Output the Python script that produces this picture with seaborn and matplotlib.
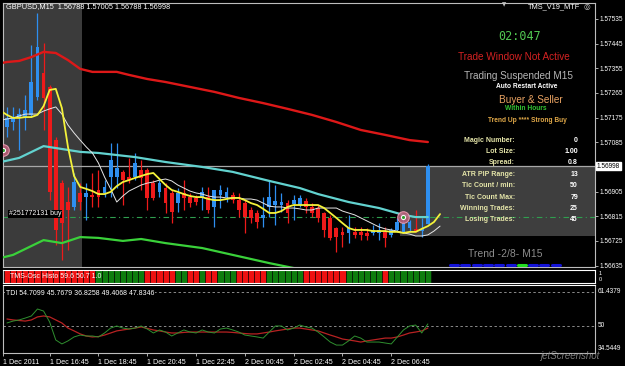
import numpy as np
import pandas as pd
import matplotlib
matplotlib.use('Agg')
import matplotlib.pyplot as plt
from matplotlib.patches import Rectangle
from matplotlib.lines import Line2D
import seaborn as sns

# GBPUSD M15 candles, 1 Dec 2011 15:00 onwards
opens = [1.57141, 1.57159, 1.57174, 1.57177, 1.57185, 1.57250, 1.57338, 1.57287, 1.57093, 1.56936,
         1.56867, 1.56849, 1.56900, 1.56885, 1.56893, 1.56911, 1.56900, 1.56958, 1.56958, 1.56977,
         1.56958, 1.56958, 1.56984, 1.56984, 1.56936, 1.56904, 1.56918, 1.56900, 1.56863, 1.56900,
         1.56885, 1.56882, 1.56882, 1.56885, 1.56849, 1.56893, 1.56885, 1.56893, 1.56874, 1.56863,
         1.56838, 1.56827, 1.56809, 1.56849, 1.56856, 1.56856, 1.56863, 1.56860, 1.56856, 1.56871,
         1.56849, 1.56845, 1.56827, 1.56809, 1.56772, 1.56758, 1.56754, 1.56758, 1.56758, 1.56754,
         1.56754, 1.56754, 1.56758, 1.56747, 1.56765, 1.56758, 1.56772, 1.56769, 1.56761, 1.56788]
highs = [1.57214, 1.57214, 1.57210, 1.57258, 1.57440, 1.57557, 1.57447, 1.57294, 1.57104, 1.56947,
         1.56922, 1.56973, 1.56936, 1.56936, 1.56973, 1.56984, 1.56947, 1.57082, 1.57082, 1.56984,
         1.57028, 1.57046, 1.57020, 1.56991, 1.56947, 1.56947, 1.56936, 1.56911, 1.56918, 1.56947,
         1.56900, 1.56893, 1.56922, 1.56922, 1.56911, 1.56929, 1.56922, 1.56904, 1.56900, 1.56874,
         1.56849, 1.56838, 1.56885, 1.56947, 1.56929, 1.56900, 1.56874, 1.56893, 1.56893, 1.56882,
         1.56863, 1.56856, 1.56831, 1.56820, 1.56776, 1.56776, 1.56820, 1.56776, 1.56776, 1.56772,
         1.56783, 1.56790, 1.56776, 1.56772, 1.56809, 1.56820, 1.56801, 1.56838, 1.56809, 1.57005]
lows = [1.57104, 1.57130, 1.57057, 1.57130, 1.57177, 1.57239, 1.57130, 1.56874, 1.56710, 1.56655,
        1.56692, 1.56838, 1.56838, 1.56801, 1.56849, 1.56849, 1.56885, 1.56885, 1.56918, 1.56856,
        1.56936, 1.56947, 1.56911, 1.56838, 1.56874, 1.56885, 1.56827, 1.56790, 1.56831, 1.56838,
        1.56849, 1.56856, 1.56838, 1.56827, 1.56776, 1.56845, 1.56867, 1.56863, 1.56812, 1.56754,
        1.56790, 1.56772, 1.56776, 1.56812, 1.56783, 1.56831, 1.56790, 1.56801, 1.56849, 1.56827,
        1.56812, 1.56794, 1.56739, 1.56728, 1.56684, 1.56703, 1.56718, 1.56736, 1.56728, 1.56728,
        1.56747, 1.56728, 1.56703, 1.56739, 1.56758, 1.56754, 1.56758, 1.56758, 1.56739, 1.56788]
closes = [1.57174, 1.57177, 1.57188, 1.57203, 1.57305, 1.57433, 1.57247, 1.56904, 1.56765, 1.56790,
          1.56838, 1.56940, 1.56867, 1.56900, 1.56885, 1.56885, 1.56922, 1.57020, 1.56991, 1.56947,
          1.56947, 1.57009, 1.56955, 1.56882, 1.56882, 1.56936, 1.56863, 1.56831, 1.56900, 1.56882,
          1.56863, 1.56867, 1.56904, 1.56838, 1.56911, 1.56911, 1.56904, 1.56874, 1.56838, 1.56812,
          1.56809, 1.56794, 1.56820, 1.56885, 1.56871, 1.56867, 1.56827, 1.56874, 1.56882, 1.56849,
          1.56827, 1.56809, 1.56765, 1.56736, 1.56739, 1.56747, 1.56772, 1.56747, 1.56747, 1.56743,
          1.56765, 1.56765, 1.56736, 1.56765, 1.56794, 1.56790, 1.56794, 1.56761, 1.56769, 1.56998]

# envelope lines (red upper, cyan middle, green lower)
red_x = [-1, 0, 2, 4, 6, 8, 10, 12, 14, 16, 18, 20, 23, 26, 30, 34, 38, 42, 46, 50, 54, 58, 62, 66, 69]
red_y = [1.57374, 1.57378, 1.57382, 1.57396, 1.57415, 1.57411, 1.57385, 1.57353, 1.57342, 1.57342,
         1.57342, 1.57331, 1.57316, 1.57305, 1.57287, 1.57269, 1.57247, 1.57228, 1.57207, 1.57185,
         1.57159, 1.57130, 1.57112, 1.57093, 1.57086]
cyan_x = [-1, 2, 6, 10, 12, 15, 21, 26, 32, 37, 43, 48, 51, 56, 61, 65, 67, 69]
cyan_y = [1.57013, 1.57028, 1.57071, 1.57057, 1.57050, 1.57046, 1.57031, 1.57013, 1.56995, 1.56977,
          1.56944, 1.56918, 1.56896, 1.56867, 1.56845, 1.56820, 1.56812, 1.56812]
green_x = [-1, 1, 6, 9, 12, 15, 19, 22, 26, 32, 37, 43, 47, 52, 58, 64, 69]
green_y = [1.56663, 1.56674, 1.56728, 1.56717, 1.56739, 1.56736, 1.56725, 1.56732, 1.56717, 1.56699,
           1.56674, 1.56644, 1.56626, 1.56601, 1.56575, 1.56553, 1.56539]

# fast (yellow) and slow (white) averages, bars -1..71
ma_x = list(range(-1, 72))
yellow_y = [1.57199, 1.57185, 1.57174, 1.57174, 1.57177, 1.57177, 1.57185, 1.57217, 1.57276, 1.57280,
            1.57210, 1.57068, 1.56962, 1.56922, 1.56915, 1.56907, 1.56896, 1.56896, 1.56904, 1.56925,
            1.56940, 1.56947, 1.56955, 1.56962, 1.56969, 1.56973, 1.56951, 1.56929, 1.56911, 1.56904,
            1.56896, 1.56889, 1.56885, 1.56885, 1.56878, 1.56874, 1.56874, 1.56878, 1.56882, 1.56882,
            1.56874, 1.56863, 1.56856, 1.56842, 1.56827, 1.56827, 1.56834, 1.56849, 1.56856, 1.56856,
            1.56856, 1.56856, 1.56856, 1.56845, 1.56827, 1.56809, 1.56790, 1.56772, 1.56765, 1.56765,
            1.56765, 1.56761, 1.56761, 1.56761, 1.56758, 1.56758, 1.56754, 1.56758, 1.56758, 1.56769,
            1.56779, 1.56794, 1.56823]
white_y = [1.57166, 1.57170, 1.57174, 1.57181, 1.57188, 1.57188, 1.57188, 1.57199, 1.57207, 1.57214,
           1.57188, 1.57148, 1.57119, 1.57093, 1.57068, 1.57046, 1.57009, 1.56958, 1.56915, 1.56867,
           1.56889, 1.56907, 1.56918, 1.56929, 1.56936, 1.56940, 1.56947, 1.56951, 1.56944, 1.56929,
           1.56918, 1.56907, 1.56900, 1.56896, 1.56889, 1.56885, 1.56885, 1.56882, 1.56882, 1.56882,
           1.56878, 1.56878, 1.56874, 1.56863, 1.56852, 1.56849, 1.56849, 1.56845, 1.56845, 1.56842,
           1.56838, 1.56838, 1.56845, 1.56845, 1.56845, 1.56845, 1.56834, 1.56827, 1.56820, 1.56809,
           1.56798, 1.56787, 1.56776, 1.56769, 1.56765, 1.56761, 1.56754, 1.56750, 1.56743, 1.56743,
           1.56747, 1.56761, 1.56779]

# TMS-Osc histo state per bar (R = sell, G = buy)
osc_state = "RRRRRRRRRRRRRRRGGGGGGGGRRRRRGGRRGRRGGGRRRRRGGGGGGRRRRRRRGGGGGGRGGGGGGG"

# TDI lines
tdi_green = [51.6, 52.6, 53.2, 54.2, 55.3, 59.0, 57.9, 52.1, 42.6, 40.5,
             42.1, 44.2, 45.2, 44.7, 44.7, 44.2, 46.3, 48.9, 50.0, 48.9,
             48.4, 48.9, 50.0, 48.4, 46.3, 47.9, 46.8, 44.7, 46.3, 47.9,
             46.8, 46.3, 47.9, 46.8, 46.3, 48.4, 48.9, 47.9, 46.8, 45.2,
             44.7, 44.2, 43.6, 46.8, 50.0, 50.0, 47.9, 48.9, 50.5, 49.5,
             48.9, 46.8, 44.2, 41.5, 39.9, 39.9, 42.1, 44.7, 43.6, 41.5,
             41.5, 41.5, 41.0, 40.5, 44.2, 47.9, 50.0, 50.5, 46.3, 51.1]
tdi_red = [53.7, 53.2, 52.9, 52.6, 53.2, 54.8, 55.3, 54.8, 53.2, 51.6,
           48.9, 47.4, 45.8, 44.7, 44.2, 44.4, 45.2, 46.3, 47.4, 47.9,
           48.4, 48.9, 49.5, 48.7, 47.9, 47.4, 46.8, 46.3, 46.3, 46.6,
           46.8, 46.8, 46.8, 46.8, 46.8, 46.8, 46.8, 46.6, 46.3, 46.0,
           45.8, 45.8, 46.3, 46.8, 47.4, 47.9, 48.4, 48.9, 48.9, 48.4,
           47.9, 47.4, 46.3, 45.2, 44.2, 43.1, 42.6, 42.1, 41.5, 42.1,
           42.6, 43.1, 43.6, 43.6, 44.2, 45.2, 46.3, 46.8, 47.4, 48.9]

price_ticks = [1.57535, 1.57445, 1.57355, 1.57265, 1.57175, 1.57085, 1.56905, 1.56815, 1.56725, 1.56635]
bid = 1.56998
order_price = 1.56812
trade_x = [-0.65, 65]
trade_y = [1.57057, 1.56812]

date_ticks = [-0.65, 7, 15, 23, 31, 39, 47, 55, 63]
date_labels = ["1 Dec 2011", "1 Dec 16:45", "1 Dec 18:45", "1 Dec 20:45", "1 Dec 22:45",
               "2 Dec 00:45", "2 Dec 02:45", "2 Dec 04:45", "2 Dec 06:45"]

info_labels = ["Magic Number:", "Lot Size:", "Spread:", "ATR PIP Range:", "Tic Count / min:",
               "Tic Count Max:", "Winning Trades:", "Losing Trades:"]
info_values = ["0", "1.00", "0.8", "13", "50", "79", "25", "45"]
trend_colors = ["#1414d8"] * 6 + ["#22dd22"] + ["#1414d8"] * 3

sns.set_theme(style="dark", rc={"axes.facecolor": "black", "figure.facecolor": "black"})
plt.rcParams['font.family'] = ['Liberation Sans', 'DejaVu Sans']

W, H = 625, 366
fig = plt.figure(figsize=(6.25, 3.66), dpi=100)


def fax(x0, y0, x1, y1):
    return fig.add_axes([x0 / W, 1 - y1 / H, (x1 - x0) / W, (y1 - y0) / H])


def ft(x, y, s, **kw):
    kw.setdefault('va', 'center')
    return fig.text(x / W, 1 - y / H, s, **kw)


XL = (-0.65, 96.4)
LBL = 4.7
ax = fax(3, 3, 595, 267)
axo = fax(3, 270, 595, 283)
axt = fax(3, 285, 595, 353)
for a in (ax, axo, axt):
    a.set_facecolor('black')
    a.set_xlim(*XL)
    a.grid(False)
    for s in a.spines.values():
        s.set_color('#bdbdbd')
        s.set_linewidth(0.8)

# --- main chart ---
ax.set_ylim(1.566298, 1.575934)
ax.axvspan(XL[0], 12.3, color='#3b3b3b', zorder=0, lw=0)
ax.add_patch(Rectangle((64.4, 1.56743), XL[1] - 64.4, bid - 1.56743,
                       color='#3e3e3e', zorder=0, lw=0))

idx = np.arange(len(opens))
o = np.array(opens); c = np.array(closes)
up = c >= o
ccol = np.where(up, '#2e8ff0', '#ee1a1a')
ax.vlines(idx, lows, highs, colors=ccol, lw=0.9, zorder=3)
body = np.maximum(np.abs(c - o), 0.00003)
ax.bar(idx, body, bottom=np.minimum(o, c), width=0.62, color=ccol, lw=0, zorder=4)

sns.lineplot(x=red_x, y=red_y, ax=ax, color='#dd1818', lw=1.7, sort=False, estimator=None, zorder=5)
sns.lineplot(x=cyan_x, y=cyan_y, ax=ax, color='#62d2cf', lw=1.6, sort=False, estimator=None, zorder=5)
sns.lineplot(x=green_x, y=green_y, ax=ax, color='#3ad13a', lw=1.6, sort=False, estimator=None, zorder=5)
sns.lineplot(x=ma_x, y=white_y, ax=ax, color='#e6e6e6', lw=0.7, sort=False, estimator=None, zorder=6)
sns.lineplot(x=ma_x, y=yellow_y, ax=ax, color='#f4f23a', lw=1.3, sort=False, estimator=None, zorder=7)

ax.axhline(bid, color='#a8a8a8', lw=0.9, zorder=2)
ax.axhline(order_price, color='#2f9e4f', lw=0.8, ls=(0, (5, 3, 1, 3)), zorder=2)
ax.scatter(trade_x, trade_y, s=70, color='#c0607a', edgecolor='#f0a0b8', lw=0.8, alpha=0.85, zorder=8)
ax.scatter(trade_x, trade_y, s=14, color='white', lw=0, zorder=9)
ax.scatter(trade_x, trade_y, s=5, color='#2e9e2e', lw=0, zorder=10)

ax.set_xticks([])
ax.yaxis.tick_right()
ax.set_yticks(price_ticks)
ax.set_yticklabels([f"{p:.5f}" for p in price_ticks])
ax.tick_params(axis='y', right=True, left=False, labelright=True, labelleft=False,
               length=2, width=0.6, color='#c8c8c8', labelsize=LBL, labelcolor='white', pad=1)
ax.text(1.003, (bid - 1.566298) / (1.575934 - 1.566298), "1.56998", transform=ax.transAxes,
        fontsize=LBL, color='black', va='center', ha='left',
        bbox=dict(boxstyle='square,pad=0.12', fc='white', ec='white'))
ax.text(0.3, order_price + 0.00012, "#251772131 buy", fontsize=5, color='white', va='center',
        bbox=dict(boxstyle='square,pad=0.1', fc='black', ec='none'), zorder=11)

# --- osc histo strip ---
ocol = ['#ee1111' if s == 'R' else '#0e7d0e' for s in osc_state]
axo.bar(np.arange(len(osc_state)), 1, width=1.0, color=ocol, edgecolor='#050505', lw=0.4)
axo.set_ylim(0, 1)
axo.set_xticks([]); axo.set_yticks([])
for s in ('top', 'bottom', 'right'):
    axo.spines[s].set_color('white')
axo.text(0.012, 0.5, "TMS-Osc Histo 59.6 50.7 1.0", transform=axo.transAxes,
         fontsize=5, color='white', va='center', ha='left')
axo.text(1.006, 0.72, "1", transform=axo.transAxes, fontsize=4, color='white', va='center')
axo.text(1.006, 0.28, "0", transform=axo.transAxes, fontsize=4, color='white', va='center')

# --- TDI ---
axt.set_ylim(35.7, 71.7)
axt.axhline(68, color='#8a8a8a', lw=0.7, ls=(0, (2.5, 2.5)))
axt.axhline(50, color='#8a8a8a', lw=0.7, ls=(0, (2.5, 2.5)))
sns.lineplot(x=idx, y=tdi_red, ax=axt, color='#b82222', lw=0.9, sort=False, estimator=None)
sns.lineplot(x=idx, y=tdi_green, ax=axt, color='#2f8f2f', lw=0.7, sort=False, estimator=None)
axt.spines['top'].set_color('white')
axt.set_yticks([])
axt.set_xticks(date_ticks)
axt.set_xticklabels(date_labels, ha='left')
axt.tick_params(axis='x', bottom=True, length=2.5, width=0.6, color='#c8c8c8',
                labelsize=5.1, labelcolor='white', pad=1.5)
axt.text(0.005, 0.88, "TDI 54.7099 45.7679 36.8258 49.4068 47.8346", transform=axt.transAxes,
         fontsize=5, color='white', va='center', ha='left',
         bbox=dict(boxstyle='square,pad=0.1', fc='black', ec='none'))
for lab, yy in (("61.4379", 0.9), ("50", 0.4), ("34.5449", 0.06)):
    axt.text(1.004, yy, lab, transform=axt.transAxes, fontsize=LBL, color='white', va='center')

# --- overlay texts ---
ft(6, 7, "GBPUSD,M15  1.56788 1.57005 1.56788 1.56998", fontsize=5.3, color='white')
ft(580, 7, "TMS_V19_MTF", fontsize=5.3, color='white', ha='right')
ft(587, 7, "◎", fontsize=5.5, color='#d0d0d0', ha='center', family='DejaVu Sans')
ft(504, 4.5, "▼", fontsize=4, color='#c0c0c0', ha='center', family='DejaVu Sans')

ft(520, 37, "02:047", fontsize=8.5, color='#52c852', ha='center', family='DejaVu Sans Mono')
ft(514, 57, "Trade Window Not Active", fontsize=7.2, color='#d42222', ha='center')
ft(518, 76, "Trading Suspended M15", fontsize=7.2, color='#b5b5b5', ha='center')
ft(527, 87, "Auto Restart Active", fontsize=4.8, color='white', ha='center', weight='bold')
ft(531, 100, "Buyer & Seller", fontsize=7.2, color='#e8a262', ha='center')
ft(526, 109, "Within Hours", fontsize=4.8, color='#33c433', ha='center', weight='bold')
ft(527, 121, "Trend Up **** Strong Buy", fontsize=4.8, color='#e0a848', ha='center', weight='bold')

for k, (lab, val) in enumerate(zip(info_labels, info_values)):
    yy = 140 + k * 11.4
    ft(515, yy, lab, fontsize=5, color='#e4e4a8', ha='right', weight='bold')
    ft(578, yy, val, fontsize=5, color='white', ha='right', weight='bold')

ft(505, 254, "Trend -2/8- M15", fontsize=7.5, color='#8c8c8c', ha='center')
for k, col in enumerate(trend_colors):
    x0 = 450 + k * 11.3
    fig.add_artist(Line2D([x0 / W, (x0 + 8) / W], [1 - 265 / H] * 2, color=col, lw=2.2,
                          transform=fig.transFigure))

ft(570, 356, "jetScreenshot", fontsize=7, color='#9a9a9a', ha='center', style='italic', alpha=0.8)

fig.savefig('out.png', dpi=100, facecolor='black')
